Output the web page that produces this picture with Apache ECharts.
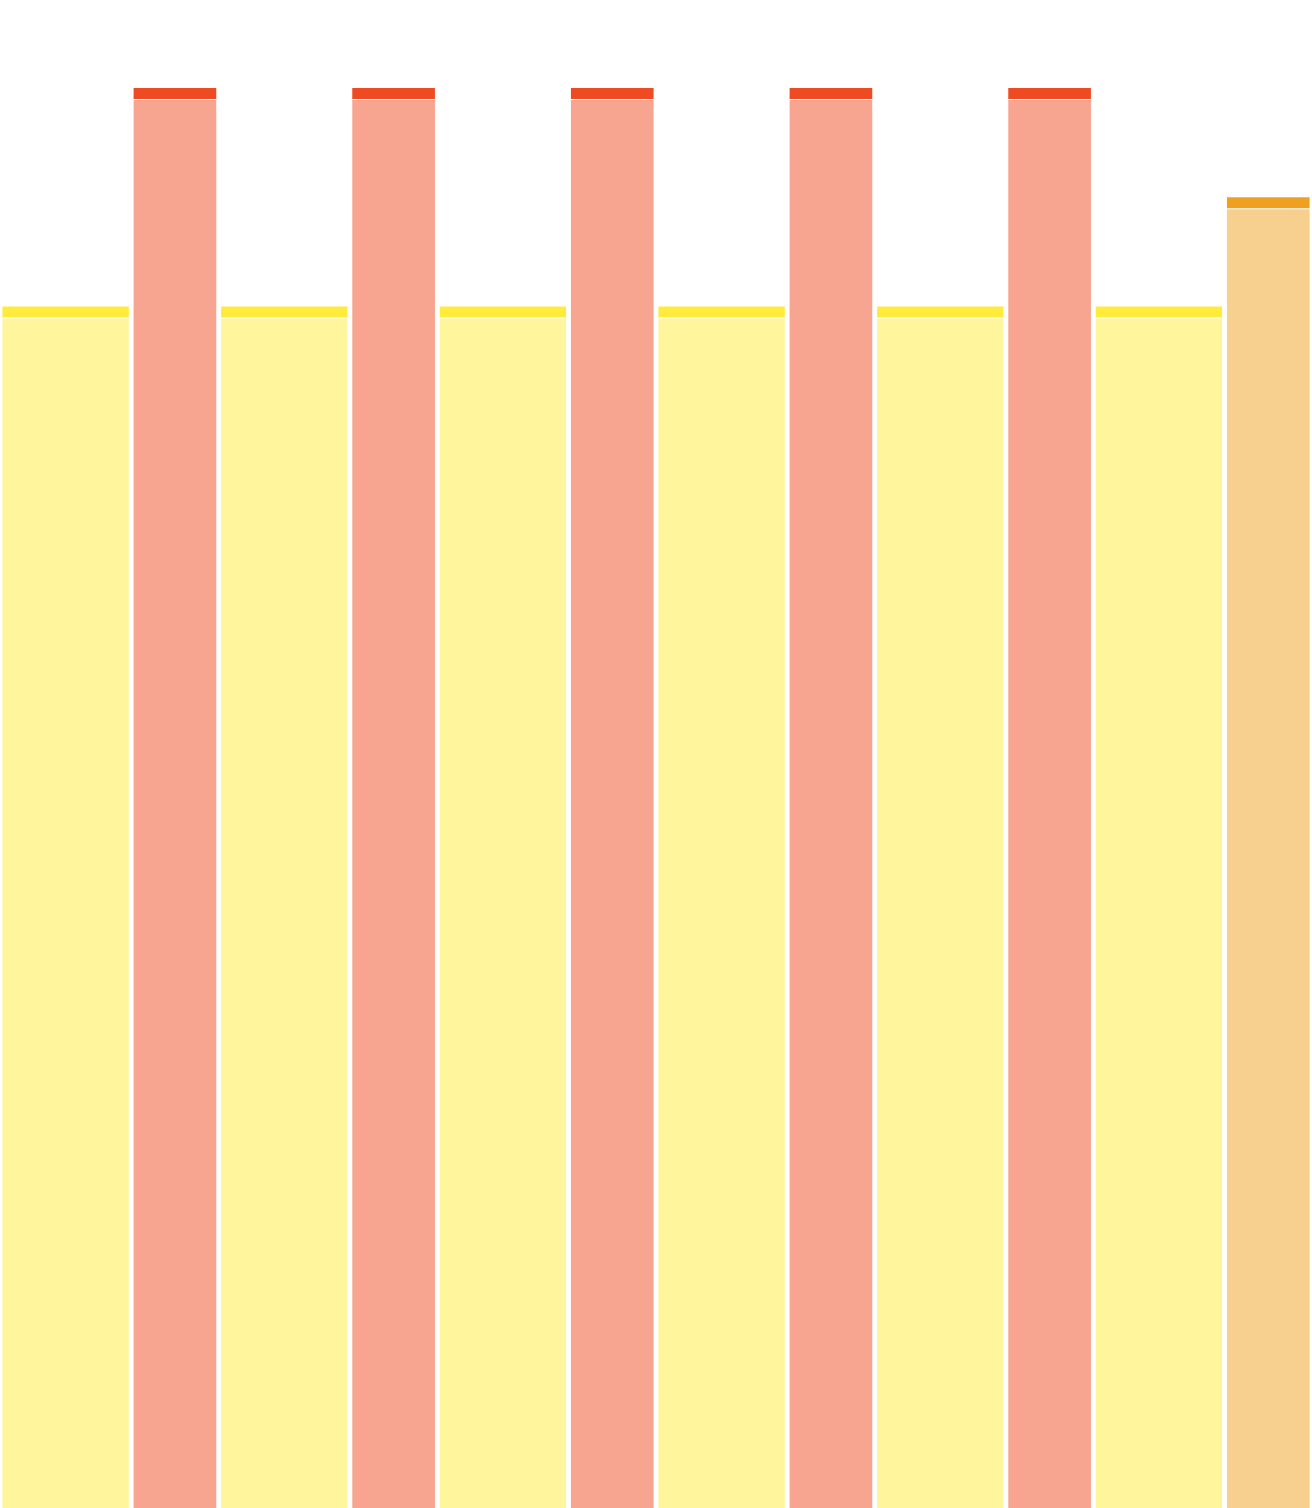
<!DOCTYPE html>
<html>
<head>
<meta charset="utf-8">
<script src="https://cdn.jsdelivr.net/npm/echarts@6/dist/echarts.min.js"></script>
<style>
  html, body { margin: 0; padding: 0; background: #fff; }
  #chart { width: 1312px; height: 1508px; }
</style>
</head>
<body>
<div id="chart"></div>
<script>
// bar widths (x units) and heights, left to right
var widths = [3, 2, 3, 2, 3, 2, 3, 2, 3, 2, 3, 2];
var values = [11, 13, 11, 13, 11, 13, 11, 13, 11, 13, 11, 12];
// which colour group each bar belongs to
var groups = [0, 1, 0, 1, 0, 1, 0, 1, 0, 1, 0, 2];

var palette = ['#FFEB3B', '#EF4B22', '#F0A020'];

// build [start, end, value, group]
var data = [];
var acc = 0;
for (var i = 0; i < widths.length; i++) {
  data.push([acc, acc + widths[i], values[i], groups[i]]);
  acc += widths[i];
}

var myChart = echarts.init(document.getElementById('chart'));

myChart.setOption({
  animation: false,
  grid: { left: 0, right: 0, top: 88, bottom: 0 },
  xAxis: { type: 'value', min: 0, max: acc, show: false },
  yAxis: { type: 'value', min: 0, max: 13, show: false },
  series: [{
    type: 'custom',
    data: data,
    encode: { x: [0, 1], y: 2 },
    renderItem: function (params, api) {
      var top = api.coord([api.value(0), api.value(2)]);
      var bot = api.coord([api.value(1), 0]);
      var inset = 2.4;
      var x = top[0] + inset;
      var w = bot[0] - top[0] - inset * 2;
      var c = palette[api.value(3)];
      return {
        type: 'group',
        children: [
          {
            type: 'rect',
            shape: { x: x, y: top[1] + 12, width: w, height: bot[1] - top[1] - 12 },
            style: { fill: c, opacity: 0.5 }
          },
          {
            type: 'rect',
            shape: { x: x, y: top[1], width: w, height: 11 },
            style: { fill: c }
          }
        ]
      };
    }
  }]
});
</script>
</body>
</html>
